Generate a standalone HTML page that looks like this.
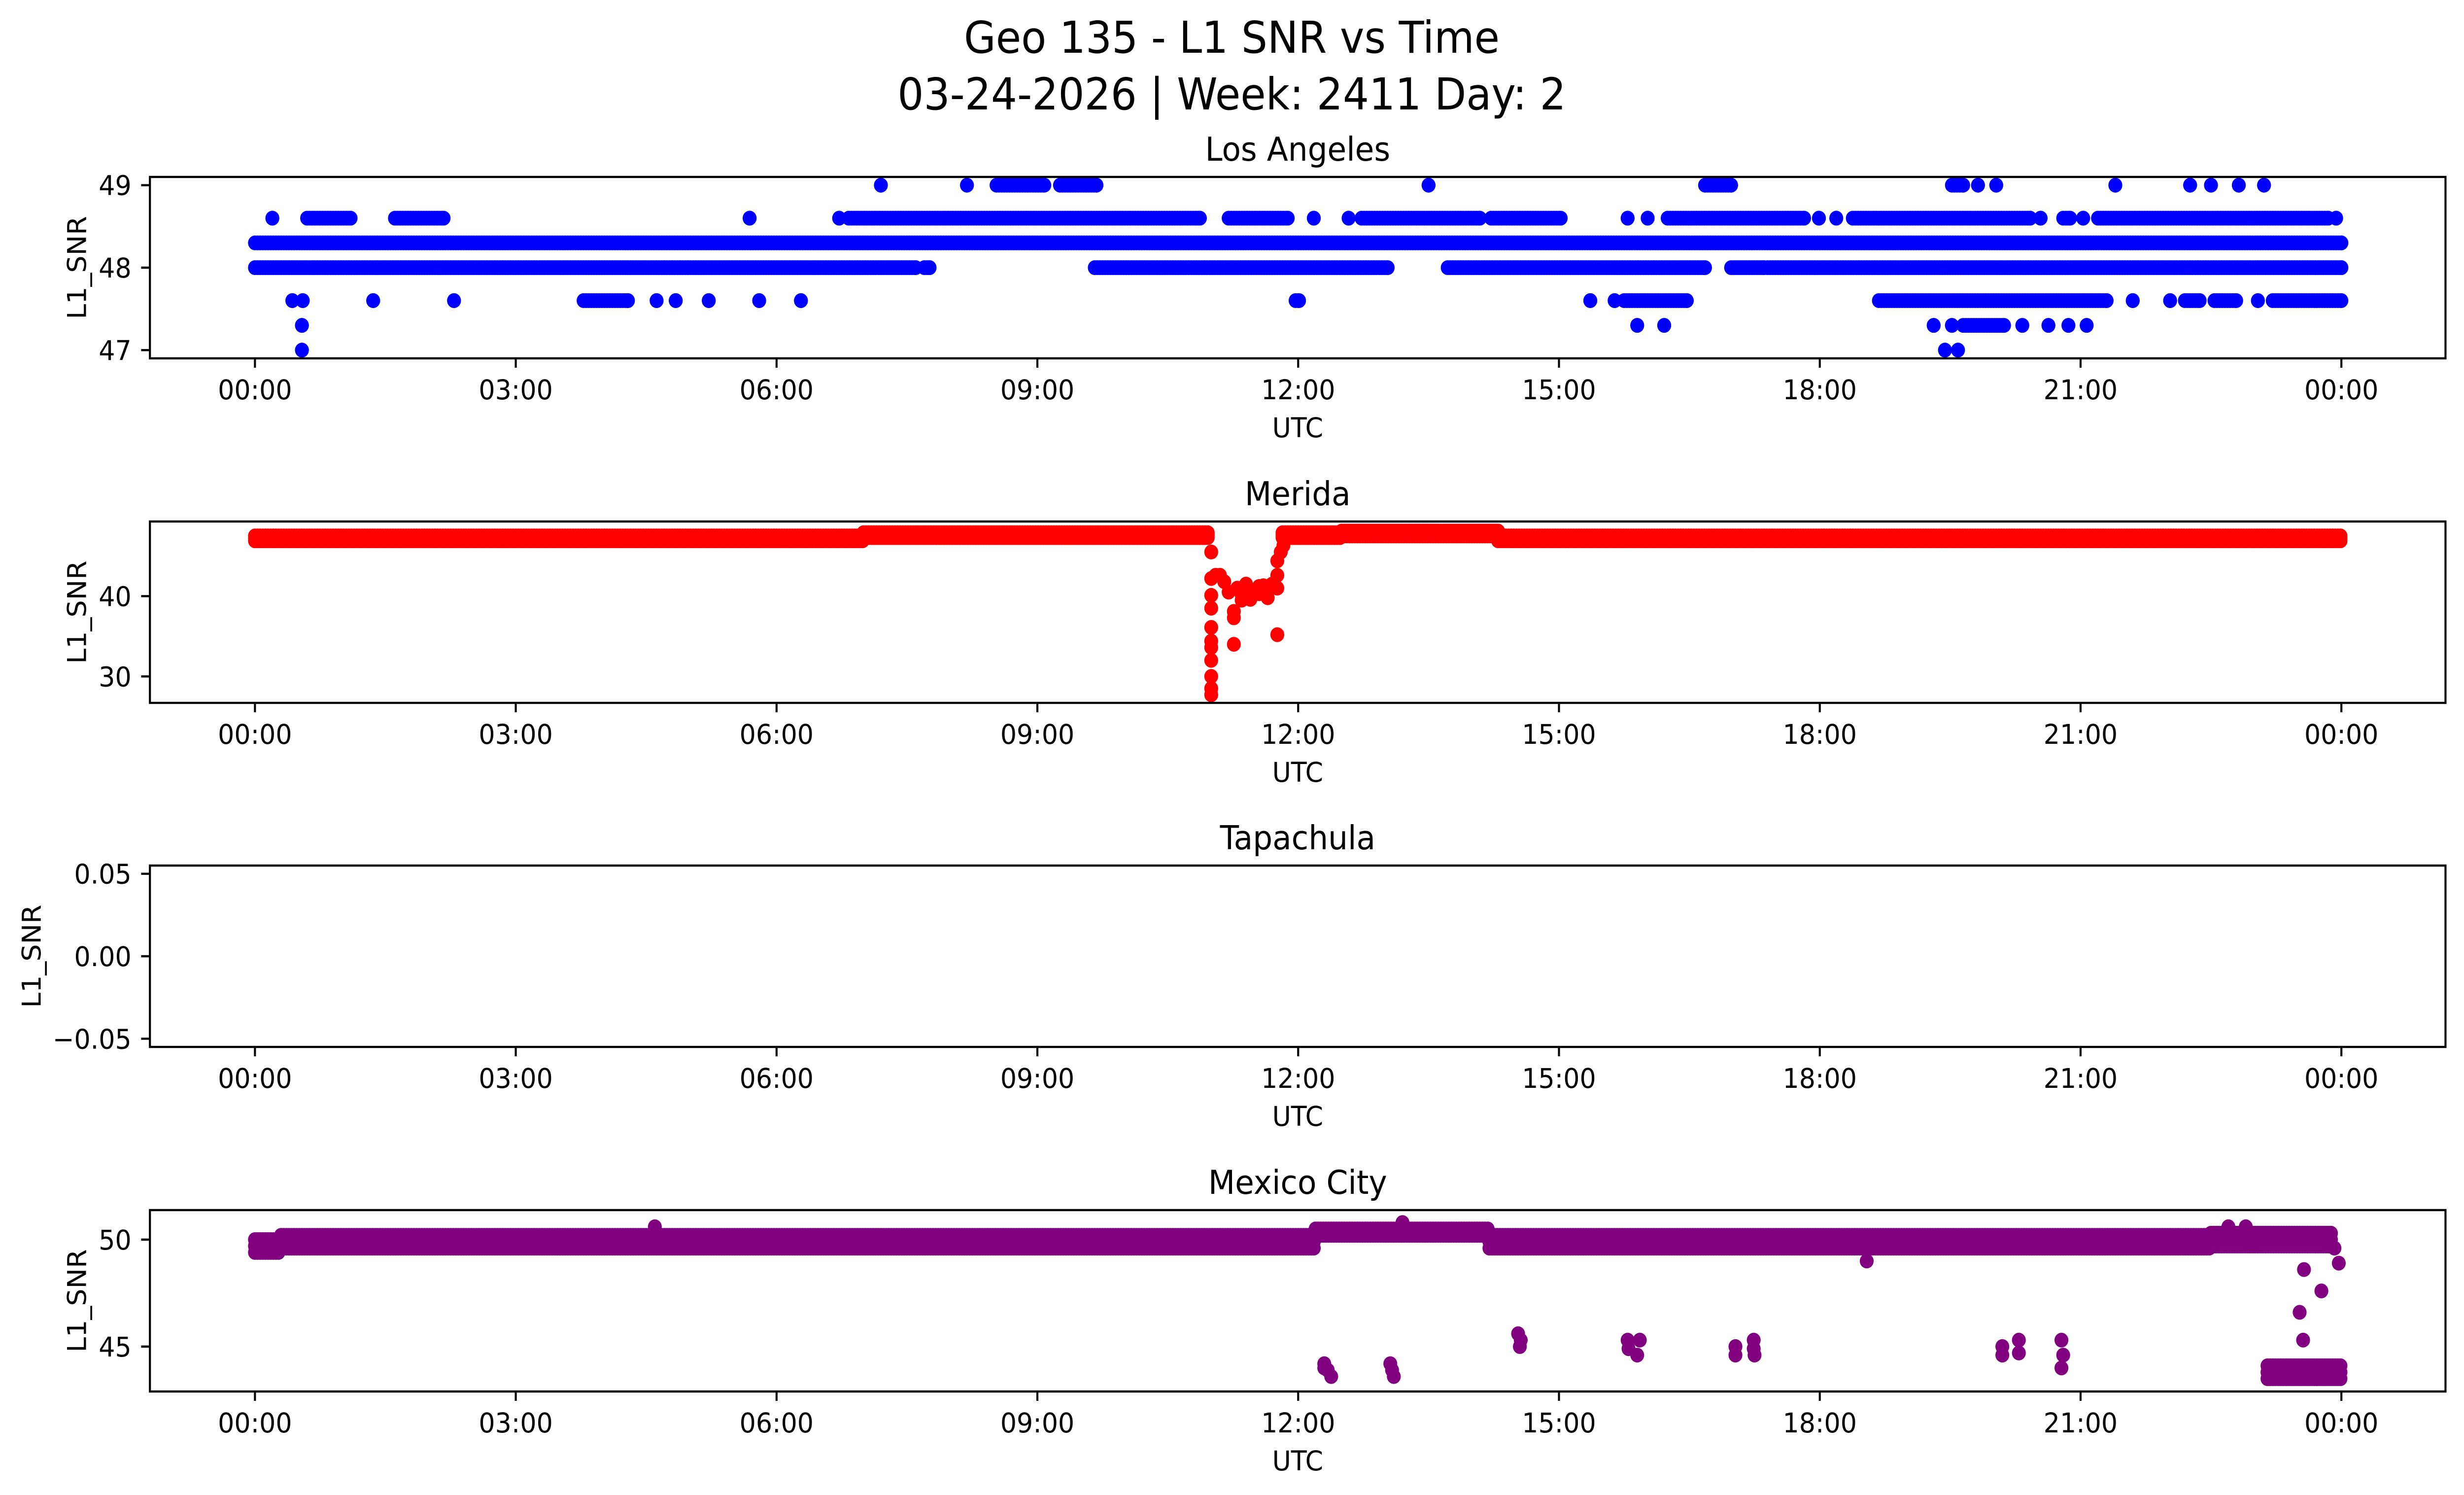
<!DOCTYPE html>
<html><head><meta charset="utf-8">
<style>
html,body{margin:0;padding:0;background:#fff;width:100%;height:100%;overflow:hidden;}
svg{display:block;width:100vw;height:100vh;}
svg text{font-family:"DejaVu Sans","Liberation Sans",sans-serif;fill:#000;}
</style></head>
<body>
<svg id="fig" xmlns="http://www.w3.org/2000/svg" viewBox="0 0 5325 3033" preserveAspectRatio="none">
<rect width="5325" height="3033" fill="#fff"/>
<text x="2662" y="107" font-size="89" text-anchor="middle">Geo 135 - L1 SNR vs Time</text>
<text x="2662" y="222" font-size="89" text-anchor="middle">03-24-2026 | Week: 2411 Day: 2</text>
<g id="plots"></g>
</svg>
<script>
// ---- shared axis data ----
const xTickHours = [0,3,6,9,12,15,18,21,24];
const xTickLabels = ["00:00","03:00","06:00","09:00","12:00","15:00","18:00","21:00","00:00"];
const panelTitles = ["Los Angeles","Merida","Tapachula","Mexico City"];
const panelColors = ["#0000ff","#ff0000","#ff0000","#800080"];
const yMins = [46.9, 26.7, -0.055, 42.9];
const yMaxs = [49.1, 49.3, 0.055, 51.38];
const yTicks0 = [47,48,49];
const yTicks1 = [30,40];
const yTicks2 = [-0.05,0,0.05];
const yTickLabels2 = ["\u22120.05","0.00","0.05"];
const yTicks3 = [45,50];

// ---- Los Angeles: quantized levels, [start,end] hour runs ----
const laLevels = [49.0, 48.6, 48.3, 48.0, 47.6, 47.3, 47.0];
const la490 = [[7.2,7.2],[8.19,8.19],[8.53,9.08],[9.26,9.68],[13.5,13.5],[16.68,16.98],[19.52,19.65],[19.82,19.82],[20.03,20.03],[21.4,21.4],[22.26,22.26],[22.5,22.5],[22.82,22.82],[23.11,23.11]];
const la486 = [[0.2,0.2],[0.6,1.1],[1.61,2.17],[5.69,5.69],[6.72,6.72],[6.83,10.87],[11.2,11.88],[12.18,12.18],[12.58,12.58],[12.73,14.09],[14.22,15.02],[15.79,15.79],[16.02,16.02],[16.25,17.82],[17.99,17.99],[18.19,18.19],[18.38,20.42],[20.54,20.54],[20.8,20.88],[21.03,21.03],[21.2,23.85],[23.94,23.94]];
const la483 = [[0,24]];
const la480 = [[0,7.6],[7.7,7.76],[9.66,13.03],[13.72,16.68],[16.98,17.36],[17.4,24]];
const la476 = [[0.43,0.43],[0.55,0.55],[1.36,1.36],[2.29,2.29],[3.78,4.29],[4.62,4.62],[4.84,4.84],[5.22,5.22],[5.8,5.8],[6.28,6.28],[11.97,12.01],[15.36,15.36],[15.64,15.64],[15.75,16.47],[18.68,21.3],[21.6,21.6],[22.03,22.03],[22.2,22.37],[22.54,22.79],[23.04,23.04],[23.21,24.0]];
const la473 = [[0.54,0.54],[15.9,15.9],[16.21,16.21],[19.31,19.31],[19.52,19.52],[19.65,20.12],[20.33,20.33],[20.63,20.63],[20.86,20.86],[21.07,21.07]];
const la470 = [[0.54,0.54],[19.44,19.44],[19.59,19.59]];
const laRuns = [la490, la486, la483, la480, la476, la473, la470];

// ---- Merida: band segments [start,end,low,high] + dip points ----
const merSegStart = [0, 7, 11.82, 12.5, 14.3];
const merSegEnd   = [7, 10.98, 12.5, 14.3, 24];
const merSegLow   = [46.9, 47.3, 47.3, 47.5, 46.9];
const merSegHigh  = [47.5, 47.9, 48.0, 48.3, 47.6];
const merDipT = [11.0,11.0,11.0,11.0,11.0,11.0,11.0,11.0,11.0,11.0,11.0,11.05,11.1,11.15,11.2,11.26,11.26,11.26,11.3,11.35,11.4,11.45,11.5,11.55,11.6,11.65,11.7,11.35,11.45,11.55,11.65,11.76,11.76,11.76,11.76,11.8,11.83];
const merDipV = [45.5,42.2,40.1,38.5,36.1,34.4,33.6,32.0,30.0,28.5,27.7,42.6,42.6,41.8,40.5,38.1,37.3,34.0,41.0,40.2,41.5,40.0,40.6,41.2,41.3,40.8,41.5,39.5,39.6,40.3,39.8,44.4,42.6,41.0,35.2,45.5,46.3];

// ---- Mexico City: band segments + outlier points ----
const mexSegStart = [0, 0.3, 12.2, 14.2, 22.5];
const mexSegEnd   = [0.3, 12.2, 14.2, 22.5, 23.9];
const mexSegLow   = [49.4, 49.6, 50.2, 49.6, 49.7];
const mexSegHigh  = [50.1, 50.3, 50.6, 50.3, 50.5];
const mexPtT = [12.3,12.34,12.38,12.3,13.06,13.08,13.1,14.53,14.56,14.55,15.79,15.8,15.93,15.9,17.03,17.03,17.24,17.24,17.25,20.1,20.1,20.29,20.29,20.78,20.78,20.8,18.54,23.52,23.56,23.57,23.77,23.92,23.97,4.6,13.2,22.7,22.9];
const mexPtV = [44.2,43.9,43.6,44.0,44.2,43.9,43.6,45.6,45.3,45.0,45.3,44.9,45.3,44.6,45.0,44.6,45.3,44.9,44.6,45.0,44.6,45.3,44.7,45.3,44.0,44.6,49.0,46.6,45.3,48.6,47.6,49.6,48.9,50.6,50.8,50.6,50.6];
const mexTailStart = 23.15, mexTailEnd = 24.0;
const mexTailLow = 43.5, mexTailHigh = 44.1;

// ---- layout ----
const NS = "http://www.w3.org/2000/svg";
const AX_L = 324, AX_R = 5285, PH = 368;
const panelTops = [359, 1058, 1756, 2455];
const X0 = 551, X24 = 5060;
const R = 15;
function xPos(h){ return X0 + (X24 - X0) * h / 24; }
function yPos(p, v){ return panelTops[p] + PH * (yMaxs[p] - v) / (yMaxs[p] - yMins[p]); }
const root = document.getElementById('plots');
function mk(tag, attrs, parent){
  const e = document.createElementNS(NS, tag);
  for (const k in attrs) e.setAttribute(k, attrs[k]);
  (parent || root).appendChild(e);
  return e;
}
function dot(g, p, h, v){
  const c = mk('circle', {cx: xPos(h).toFixed(1), cy: yPos(p, v).toFixed(1), r: R}, g);
  
  
}

for (let p = 0; p < 4; p++){
  const top = panelTops[p], bot = top + PH;
  const g = mk('g', {});
  
  
  const t = mk('text', {x: (AX_L + AX_R) / 2, y: top - 33, 'font-size': 67, 'text-anchor': 'middle'}, g);
  t.textContent = panelTitles[p];
  
  

  const pts = mk('g', {fill: panelColors[p]}, g);
  
  
  const step = 0.03;
  if (p === 0){
    for (let i = 0; i < laLevels.length; i++){
      for (const run of laRuns[i]){
        for (let h = run[0]; h <= run[1] + 1e-9; h += step) dot(pts, 0, h, laLevels[i]);
        dot(pts, 0, run[1], laLevels[i]);
      }
    }
  } else if (p === 1){
    for (let s = 0; s < merSegStart.length; s++){
      for (let h = merSegStart[s]; h <= merSegEnd[s]; h += step){
        for (let v = merSegLow[s]; v <= merSegHigh[s] + 1e-9; v += 0.3) dot(pts, 1, h, v);
      }
    }
    for (let i = 0; i < merDipT.length; i++) dot(pts, 1, merDipT[i], merDipV[i]);
  } else if (p === 3){
    for (let s = 0; s < mexSegStart.length; s++){
      for (let h = mexSegStart[s]; h <= mexSegEnd[s]; h += step){
        for (let v = mexSegLow[s]; v <= mexSegHigh[s] + 1e-9; v += 0.3) dot(pts, 3, h, v);
      }
    }
    for (let h = mexTailStart; h <= mexTailEnd; h += step){
      for (let v = mexTailLow; v <= mexTailHigh + 1e-9; v += 0.3) dot(pts, 3, h, v);
    }
    for (let i = 0; i < mexPtT.length; i++) dot(pts, 3, mexPtT[i], mexPtV[i]);
  }

  const fr = mk('rect', {x: AX_L, y: top, width: AX_R - AX_L, height: PH, fill: 'none', stroke: '#000', 'stroke-width': 4.4}, g);
  
  

  for (let i = 0; i < xTickHours.length; i++){
    const x = xPos(xTickHours[i]);
    const tk = mk('line', {x1: x, y1: bot, x2: x, y2: bot + 19, stroke: '#000', 'stroke-width': 4.4}, g);
    
    
    const tl = mk('text', {x: x, y: bot + 83, 'font-size': 55.6, 'text-anchor': 'middle'}, g);
    tl.textContent = xTickLabels[i];
    
    
  }
  const xl = mk('text', {x: (AX_L + AX_R) / 2, y: bot + 160, 'font-size': 55.6, 'text-anchor': 'middle'}, g);
  xl.textContent = 'UTC';
  
  

  const yt = [yTicks0, yTicks1, yTicks2, yTicks3][p];
  for (let i = 0; i < yt.length; i++){
    const y = yPos(p, yt[i]);
    const tk = mk('line', {x1: AX_L - 19, y1: y, x2: AX_L, y2: y, stroke: '#000', 'stroke-width': 4.4}, g);
    
    
    const tl = mk('text', {x: 284, y: y + 20, 'font-size': 55.6, 'text-anchor': 'end'}, g);
    tl.textContent = p === 2 ? yTickLabels2[i] : String(yt[i]);
    
    
  }
  const yx = p === 2 ? 88 : 186;
  const yl = mk('text', {x: yx, y: top + PH / 2, 'font-size': 55.6, 'text-anchor': 'middle', transform: 'rotate(-90 ' + yx + ' ' + (top + PH / 2) + ')'}, g);
  yl.textContent = 'L1_SNR';
  
  
}
</script>
</body></html>
